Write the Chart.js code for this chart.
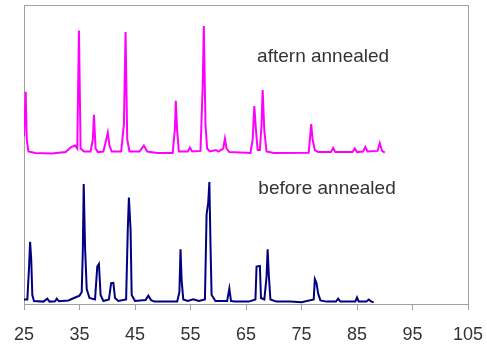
<!DOCTYPE html>
<html>
<head>
<meta charset="utf-8">
<script src="https://cdn.jsdelivr.net/npm/chart.js@4/dist/chart.umd.min.js"></script>
<style>
    html, body { margin: 0; padding: 0; background: #fff; }
    canvas { display: block; }
</style>
</head>
<body>
<canvas id="xrdChart" width="487" height="348"></canvas>
<script>
// 2-theta tick labels
const xTicks = [25, 35, 45, 55, 65, 75, 85, 95, 105];

// After annealing (offset trace, magenta)
const afterX = [25.0, 25.3, 25.5, 25.8, 27, 30, 32.5, 33.5, 34.2, 34.6, 34.9, 35.2, 35.8, 37.0, 37.4, 37.6, 37.9, 38.3,
    39.3, 39.7, 40.1, 40.4, 40.8, 42.5, 43.0, 43.3, 43.6, 44.0, 45.8, 46.6, 47.2, 49, 51.8, 52.2, 52.35, 52.6, 52.9,
    54.5, 54.9, 55.3, 56.8, 57.2, 57.4, 57.7, 58.0, 58.5, 59.6, 60.0, 60.9, 61.2, 61.5, 62, 65.8, 66.2, 66.5, 66.8,
    67.1, 67.5, 67.8, 68.0, 68.3, 68.7, 70, 76.3, 76.6, 76.75, 77.0, 77.4, 78, 80.3, 80.7, 81.1, 84.2, 84.6, 85,
    86.1, 86.5, 86.9, 88.7, 89.1, 89.5, 90.0];
const afterY = [56, 71, 55, 51, 50.5, 50.3, 50.8, 52.5, 53, 52, 91.5, 52, 51, 51, 55, 63.3, 52, 50.8,
    51, 54, 57.3, 53, 51, 51, 60, 91, 55, 51, 51, 53, 51, 50.5, 50.5, 59, 68, 58, 51,
    51, 52.3, 51, 51.2, 73, 93, 60, 52, 51, 51.5, 51, 52, 55.3, 52, 50.8, 50.5, 55, 66.2, 58,
    51.5, 51.5, 60, 71.6, 58, 51, 50.5, 50.6, 57, 60.2, 55, 51.5, 50.8, 50.8, 52.2, 50.8, 50.8, 52, 50.8,
    51, 52.5, 51, 51.2, 53.8, 51.2, 50.6];

// Before annealing (navy)
const beforeX = [25.0, 25.6, 25.9, 26.1, 26.3, 26.5, 26.8, 28.5, 29.2, 29.6, 30.6, 30.9, 31.3, 33, 34, 35.0, 35.4,
    35.6, 35.76, 36.0, 36.3, 36.8, 37.8, 38.2, 38.5, 38.8, 39.3, 40.3, 40.7, 41.1, 41.4, 42, 43.4, 43.7, 43.9, 44.2,
    44.4, 45, 46.9, 47.4, 47.9, 48.5, 52.6, 53.0, 53.2, 53.4, 53.7, 54.5, 55.5, 56.5, 57.6, 57.9, 58.2, 58.4, 58.6,
    58.8, 59.5, 61.6, 62.0, 62.3, 63, 65.5, 66.7, 66.9, 67.5, 67.7, 68.3, 68.7, 68.9, 69.1, 69.4, 70.5, 73, 75,
    77.2, 77.4, 77.7, 78.0, 78.4, 79.5, 81.2, 81.6, 82.0, 84.7, 85.0, 85.3, 86.7, 87.1, 87.6, 88.0];
const beforeY = [1.5, 1.5, 12, 20.8, 15, 3, 1, 0.8, 1.8, 0.8, 0.9, 1.8, 0.9, 1.2, 2.0, 2.8, 4,
    18, 40.1, 19, 5, 2, 1.5, 12.5, 13.4, 3, 1, 1.5, 7, 7.1, 2, 1, 1.5, 25, 35.6, 25,
    3, 1, 1.3, 2.8, 1.3, 0.8, 0.8, 4, 18.3, 8, 1.5, 1, 1.6, 1, 1.5, 30, 34, 40.8, 20,
    3, 1, 1, 5.2, 1, 0.8, 0.8, 1.5, 12.5, 12.7, 2, 1.5, 9, 18.3, 10, 1.5, 0.8, 0.8, 0.6,
    1.5, 8.3, 7, 3.5, 1.2, 0.8, 0.8, 1.8, 0.8, 0.8, 2.2, 0.8, 0.8, 1.5, 0.8, 0.6];

const traceLabels = ["aftern annealed", "before annealed"];

function toPoints(xs, ys) {
    return xs.map((x, i) => ({ x: x, y: ys[i] }));
}

// frame around plot area + in-plot captions
const framePlugin = {
    id: "frame",
    beforeDatasetsDraw(chart) {
        const { ctx, chartArea: a } = chart;
        ctx.save();
        ctx.strokeStyle = "#a0a0a0";
        ctx.lineWidth = 1;
        ctx.strokeRect(a.left + 0.5, a.top + 0.5, a.right - a.left, a.bottom - a.top);
        ctx.restore();
    },
    afterDatasetsDraw(chart) {
        const { ctx, scales } = chart;
        const spots = [[78.9, 82.6], [79.6, 38.5]];
        ctx.save();
        ctx.font = "19px 'Liberation Sans', Arial, sans-serif";
        ctx.fillStyle = "#333";
        ctx.textAlign = "center";
        ctx.textBaseline = "middle";
        traceLabels.forEach((t, i) => {
            ctx.fillText(t, scales.x.getPixelForValue(spots[i][0]), scales.y.getPixelForValue(spots[i][1]));
        });
        ctx.restore();
    }
};

Chart.defaults.font.family = "'Liberation Sans', Arial, sans-serif";

new Chart(document.getElementById("xrdChart"), {
    type: "line",
    data: {
        datasets: [
            {
                label: traceLabels[0],
                data: toPoints(afterX, afterY),
                borderColor: "#ff00ff",
                borderWidth: 2,
                pointRadius: 0,
                tension: 0
            },
            {
                label: traceLabels[1],
                data: toPoints(beforeX, beforeY),
                borderColor: "#000080",
                borderWidth: 2,
                pointRadius: 0,
                tension: 0
            }
        ]
    },
    options: {
        responsive: false,
        animation: false,
        layout: { padding: { left: 24, right: 19, top: 5, bottom: 2 } },
        plugins: { legend: { display: false }, tooltip: { enabled: false } },
        scales: {
            x: {
                type: "linear",
                min: xTicks[0],
                max: xTicks[xTicks.length - 1],
                afterBuildTicks: (axis) => { axis.ticks = xTicks.map(v => ({ value: v })); },
                afterFit: (axis) => {
                    axis.paddingLeft = 0;
                    axis.paddingRight = 0;
                    axis.height = 42;
                },
                grid: { drawOnChartArea: false, drawTicks: true, tickLength: 6, color: "#a0a0a0" },
                border: { display: true, color: "#a0a0a0" },
                ticks: { color: "#333", font: { size: 18 }, padding: 14, maxRotation: 0 }
            },
            y: {
                display: false,
                min: 0,
                max: 100
            }
        }
    },
    plugins: [framePlugin]
});
</script>
</body>
</html>
